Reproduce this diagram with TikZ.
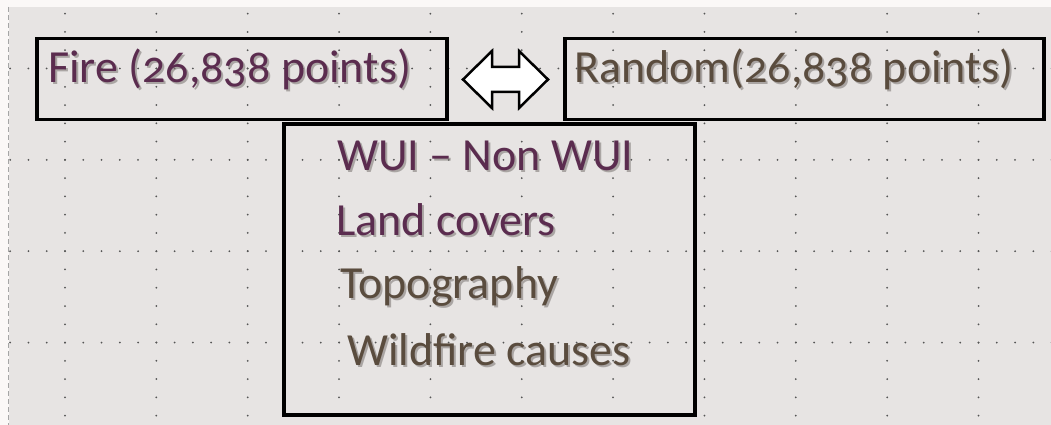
\documentclass[tikz,border=0pt]{standalone}
\usepackage{fontspec}
\setmainfont{Carlito}[Numbers=OldStyle]
\definecolor{pagebg}{RGB}{251,248,247}
\definecolor{slidebg}{RGB}{231,228,227}
\definecolor{dotc}{RGB}{85,85,85}
\definecolor{purp}{RGB}{91,44,79}
\definecolor{brwn}{RGB}{90,76,62}
\definecolor{shadowc}{RGB}{120,115,112}
\tikzset{
  boxst/.style={draw=black, line width=3.5pt, inner sep=0pt, anchor=north west},
  txt/.style={anchor=base west, inner sep=0pt, font=\fontsize{46}{55}\selectfont},
  griddot/.style={fill=dotc, draw=none},
  arrowshape/.style={fill=white, draw=black, line width=2.5pt, line join=miter}
}
\newcommand{\stxt}[5]{%
  \node[txt, text=shadowc, opacity=0.55] at (#1+2,#2+2) {#5};
  \node[txt, text=#3] (#4) at (#1,#2) {#5};}
\begin{document}
\begin{tikzpicture}[x=1pt,y=-1pt]
\useasboundingbox (0,0) rectangle (1051,425);
% background
\fill[pagebg] (0,0) rectangle (1051,425);
\fill[slidebg] (8.5,7) rectangle (1051,425);
\draw[gray!70, line width=1pt, dash pattern=on 5pt off 3pt] (8.5,7) -- (8.5,425);
% dotted grid
\foreach \k in {0,...,10}{
  \foreach \j in {-3,...,19}{
    \fill[griddot] ({65+91.35*\k},{68.5+18.27*\j}) circle (1.0);
  }
}
\foreach \r in {0,...,3}{
  \foreach \j in {-3,...,54}{
    \fill[griddot] ({65+18.27*\j},{68.5+91.35*\r}) circle (1.0);
  }
}
% boxes
\node[boxst, minimum width=410pt, minimum height=81pt] (firebox) at (35,37) {};
\node[boxst, minimum width=479pt, minimum height=81pt] (randbox) at (563,37) {};
\node[boxst, minimum width=411pt, minimum height=291pt] (listbox) at (282,122) {};
% double arrow
\draw[arrowshape] (463,79.5) -- (492,51) -- (492,67) -- (519,67) -- (519,51)
  -- (548,79.5) -- (519,108) -- (519,92) -- (492,92) -- (492,108) -- cycle;
% texts
\stxt{48}{83}{purp}{firetxt}{Fire (26,838 points)}
\stxt{574}{83}{brwn}{randtxt}{Random(26,838 points)}
\stxt{337}{170}{purp}{wui}{WUI – Non WUI}
\stxt{336}{235}{purp}{land}{Land covers}
\stxt{340}{298}{brwn}{topo}{Topography}
\stxt{347}{365}{brwn}{cause}{Wildfire causes}
\end{tikzpicture}
\end{document}
